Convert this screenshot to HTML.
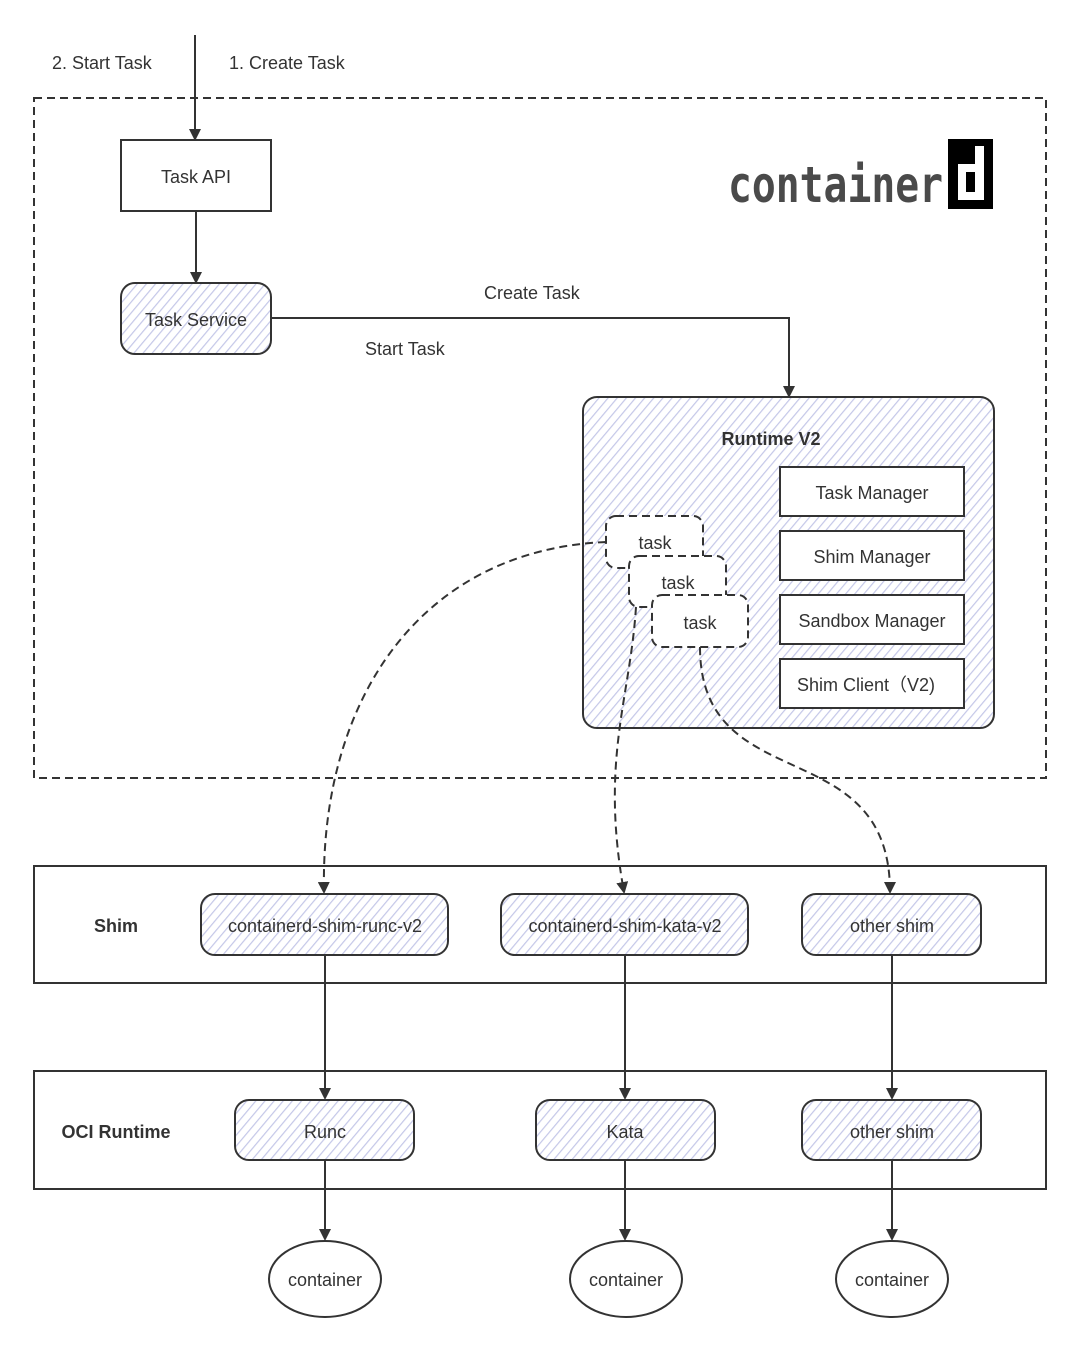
<!DOCTYPE html>
<html><head><meta charset="utf-8"><style>
body{margin:0;background:#fff}
svg{display:block}
text{font-family:"Liberation Sans",sans-serif;fill:#333;font-size:18px}
</style></head><body>
<svg width="1080" height="1350" viewBox="0 0 1080 1350">
<defs>
<pattern id="h" width="7" height="7" patternUnits="userSpaceOnUse" patternTransform="rotate(40)">
<rect width="7" height="7" fill="#fff"/><line x1="0" y1="0" x2="0" y2="7" stroke="#c4c7e8" stroke-width="2.4"/>
</pattern>
<marker id="a" markerWidth="12" markerHeight="12" refX="10" refY="6" orient="auto" markerUnits="userSpaceOnUse">
<path d="M0,0 L12,6 L0,12 Z" fill="#333"/></marker>
</defs>
<g stroke="#333" stroke-width="2" fill="none">
<rect x="34" y="98" width="1012" height="680" stroke-dasharray="8,5"/>
<line x1="195" y1="35" x2="195" y2="139" marker-end="url(#a)"/>
<rect x="121" y="140" width="150" height="71" fill="#fff"/>
<line x1="196" y1="211" x2="196" y2="282" marker-end="url(#a)"/>
<rect x="121" y="283" width="150" height="71" rx="14" fill="url(#h)"/>
<polyline points="271,318 789,318 789,396" marker-end="url(#a)"/>
<rect x="583" y="397" width="411" height="331" rx="14" fill="url(#h)"/>
<rect x="780" y="467" width="184" height="49" fill="#fff"/>
<rect x="780" y="531" width="184" height="49" fill="#fff"/>
<rect x="780" y="595" width="184" height="49" fill="#fff"/>
<rect x="780" y="659" width="184" height="49" fill="#fff"/>
<g stroke-dasharray="8,5">
<rect x="606" y="516" width="97" height="52" rx="10" fill="#fff"/>
<rect x="629" y="556" width="97" height="51" rx="10" fill="#fff"/>
<rect x="652" y="595" width="96" height="52" rx="10" fill="#fff"/>
<path d="M606,542 C420,550 320,700 324,892" marker-end="url(#a)"/>
<path d="M636,607 C630,700 600,760 624,892" marker-end="url(#a)"/>
<path d="M700,647 C700,800 890,730 890,892" marker-end="url(#a)"/>
</g>
<rect x="34" y="866" width="1012" height="117"/>
<rect x="201" y="894" width="247" height="61" rx="14" fill="url(#h)"/>
<rect x="501" y="894" width="247" height="61" rx="14" fill="url(#h)"/>
<rect x="802" y="894" width="179" height="61" rx="14" fill="url(#h)"/>
<line x1="325" y1="955" x2="325" y2="1098" marker-end="url(#a)"/>
<line x1="625" y1="955" x2="625" y2="1098" marker-end="url(#a)"/>
<line x1="892" y1="955" x2="892" y2="1098" marker-end="url(#a)"/>
<rect x="34" y="1071" width="1012" height="118"/>
<rect x="235" y="1100" width="179" height="60" rx="14" fill="url(#h)"/>
<rect x="536" y="1100" width="179" height="60" rx="14" fill="url(#h)"/>
<rect x="802" y="1100" width="179" height="60" rx="14" fill="url(#h)"/>
<line x1="325" y1="1160" x2="325" y2="1239" marker-end="url(#a)"/>
<line x1="625" y1="1160" x2="625" y2="1239" marker-end="url(#a)"/>
<line x1="892" y1="1160" x2="892" y2="1239" marker-end="url(#a)"/>
<ellipse cx="325" cy="1279" rx="56" ry="38" fill="#fff"/>
<ellipse cx="626" cy="1279" rx="56" ry="38" fill="#fff"/>
<ellipse cx="892" cy="1279" rx="56" ry="38" fill="#fff"/>
</g>
<g fill="#333">
<text x="325" y="1286" text-anchor="middle">container</text>
<text x="626" y="1286" text-anchor="middle">container</text>
<text x="892" y="1286" text-anchor="middle">container</text>
<text x="52" y="69">2. Start Task</text>
<text x="229" y="69">1. Create Task</text>
<text x="196" y="183" text-anchor="middle">Task API</text>
<text x="196" y="326" text-anchor="middle">Task Service</text>
<text x="484" y="299">Create Task</text>
<text x="365" y="355">Start Task</text>
<text x="771" y="445" text-anchor="middle" font-weight="bold">Runtime V2</text>
<text x="872" y="499" text-anchor="middle">Task Manager</text>
<text x="872" y="563" text-anchor="middle">Shim Manager</text>
<text x="872" y="627" text-anchor="middle">Sandbox Manager</text>
<text x="866" y="691" text-anchor="middle">Shim Client（V2)</text>
<text x="655" y="549" text-anchor="middle">task</text>
<text x="678" y="589" text-anchor="middle">task</text>
<text x="700" y="629" text-anchor="middle">task</text>
<text x="116" y="932" text-anchor="middle" font-weight="bold">Shim</text>
<text x="325" y="932" text-anchor="middle">containerd-shim-runc-v2</text>
<text x="625" y="932" text-anchor="middle">containerd-shim-kata-v2</text>
<text x="892" y="932" text-anchor="middle">other shim</text>
<text x="116" y="1138" text-anchor="middle" font-weight="bold">OCI Runtime</text>
<text x="325" y="1138" text-anchor="middle">Runc</text>
<text x="625" y="1138" text-anchor="middle">Kata</text>
<text x="892" y="1138" text-anchor="middle">other shim</text>
</g>
<text x="728" y="202" textLength="215" lengthAdjust="spacingAndGlyphs" style="font-family:'DejaVu Sans Mono',monospace;font-size:50px;font-weight:bold;fill:#4a4a4a">container</text>
<rect x="948" y="139" width="45" height="70" fill="#000"/>
<path d="M958,164 h17 v-18 h9 v54 h-26 Z M966,172 v20 h9 v-20 Z" fill="#fff" fill-rule="evenodd"/>
</svg>
</body></html>
